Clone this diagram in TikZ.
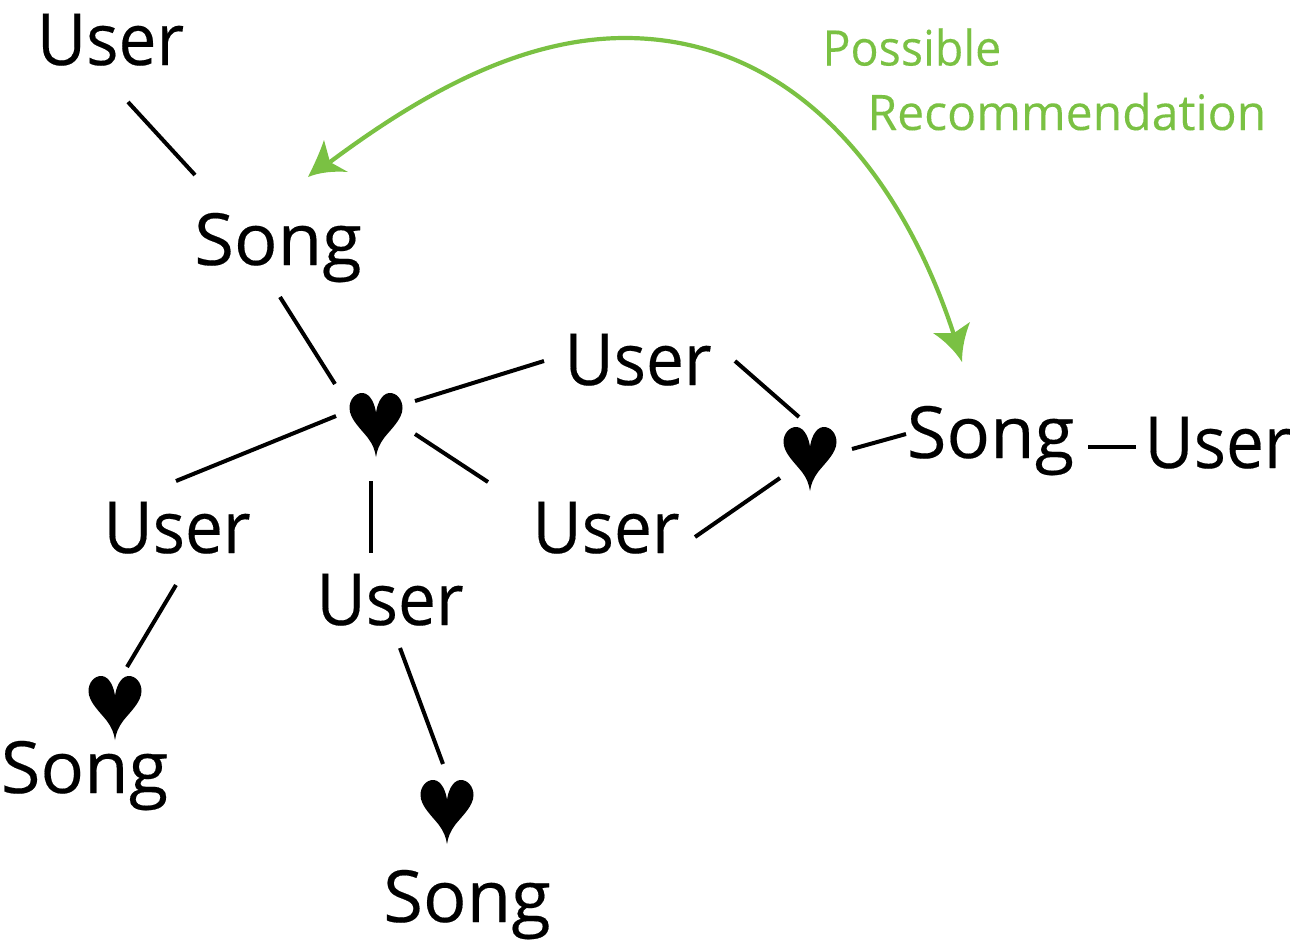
\documentclass[tikz,border=0pt]{standalone}
\usepackage{fontspec}
\setmainfont{Open Sans}
\usetikzlibrary{calc}
\definecolor{recgreen}{HTML}{7AC143}
\newcommand{\wUser}{\scalebox{0.94}[1]{User}}
\newcommand{\wSong}{\scalebox{1.005}[1]{Song}}
\tikzset{
  x=1pt,y=-1pt,
  lbl/.style={anchor=base,inner sep=0pt,outer sep=0pt,font=\fontsize{72}{72}\selectfont\addfontfeature{FakeBold=0.25}},
  rec/.style={anchor=base west,inner sep=0pt,outer sep=0pt,text=recgreen,font=\fontsize{49}{49}\selectfont\addfontfeature{FakeBold=0.15}},
  link/.style={draw=black,line width=4pt},
  hrt/.pic={\fill[black] (0,0) .. controls (1,-8) and (5,-19) .. (13,-20)
      .. controls (21,-20.5) and (26.5,-13) .. (26.5,-5)
      .. controls (26.5,6) and (15,16) .. (8,25)
      .. controls (3.5,31) and (1,37) .. (0,44)
      .. controls (-1,37) and (-3.5,31) .. (-8,25)
      .. controls (-15,16) and (-26.5,6) .. (-26.5,-5)
      .. controls (-26.5,-13) and (-21,-20.5) .. (-13,-20)
      .. controls (-5,-19) and (-1,-8) .. (0,0) -- cycle;}
}
\newcommand{\lnk}[6]{\draw[link] ($(#1)+(#2,#3)$) -- ($(#4)+(#5,#6)$);}
\begin{document}
\begin{tikzpicture}
\useasboundingbox (0,0) rectangle (1290,943);
\node[lbl] (u1) at (110.5,65) {\wUser};
\node[lbl] (s1) at (278,265) {\wSong};
\node[lbl] (u2) at (638,385) {\wUser};
\node[lbl] (s2) at (990.5,458) {\wSong};
\node[lbl] (u3) at (1218,468) {\wUser};
\node[lbl] (u4) at (177,553) {\wUser};
\node[lbl] (u5) at (390,625) {\wUser};
\node[lbl] (u6) at (606,553) {\wUser};
\node[lbl] (s3) at (84.5,793) {\wSong};
\node[lbl] (s4) at (467,922) {\wSong};
\coordinate (h1) at (376,413);
\coordinate (h2) at (810,447);
\coordinate (h3) at (115,696);
\coordinate (h4) at (447,800);
\pic at (h1) {hrt};
\pic at (h2) {hrt};
\pic at (h3) {hrt};
\pic at (h4) {hrt};
\node[rec] (p) at (822.5,65.5) {\scalebox{0.95}[1]{Possible}};
\node[rec] (r) at (867.5,130) {\scalebox{0.982}[1]{Recommendation}};
\lnk{u1.base}{17.5}{37}{s1.base}{-83}{-90}
\lnk{s1.base}{2}{32}{h1}{-41}{-29}
\lnk{h1}{39}{-12}{u2.base}{-94}{-24}
\lnk{h1}{-40}{3}{u4.base}{-1}{-72}
\lnk{h1}{39}{21}{u6.base}{-118}{-71}
\lnk{h1}{-5}{68}{u5.base}{-19}{-72}
\lnk{u2.base}{97}{-24}{h2}{-11}{-30}
\lnk{h2}{-30}{31}{u6.base}{89}{-16}
\lnk{h2}{42}{2}{s2.base}{-84.5}{-24}
\lnk{s2.base}{97.5}{-11}{u3.base}{-82}{-21}
\lnk{u4.base}{-1}{32}{h3}{12}{-29}
\lnk{u5.base}{10}{23}{h4}{-4}{-36}
\coordinate (a1) at ($(s1.base)+(52,-103)$);
\coordinate (a2) at ($(s2.base)+(-36.5,-123)$);
\draw[recgreen,line width=4.2pt] (a1) .. controls (420,95) and (520,38) .. (625,38)
   .. controls (790,38) and (900,170) .. (a2);
\fill[recgreen] (308,177) .. controls (314,165) and (320,152) .. (324,140)
   -- (330,162) -- (348,172) .. controls (335,171) and (320,172) .. (308,177) -- cycle;
\fill[recgreen] (962,362) .. controls (962,348) and (965,335) .. (970,322)
   -- (954,333) -- (933,333) .. controls (945,341) and (955,351) .. (962,362) -- cycle;
\end{tikzpicture}
\end{document}
